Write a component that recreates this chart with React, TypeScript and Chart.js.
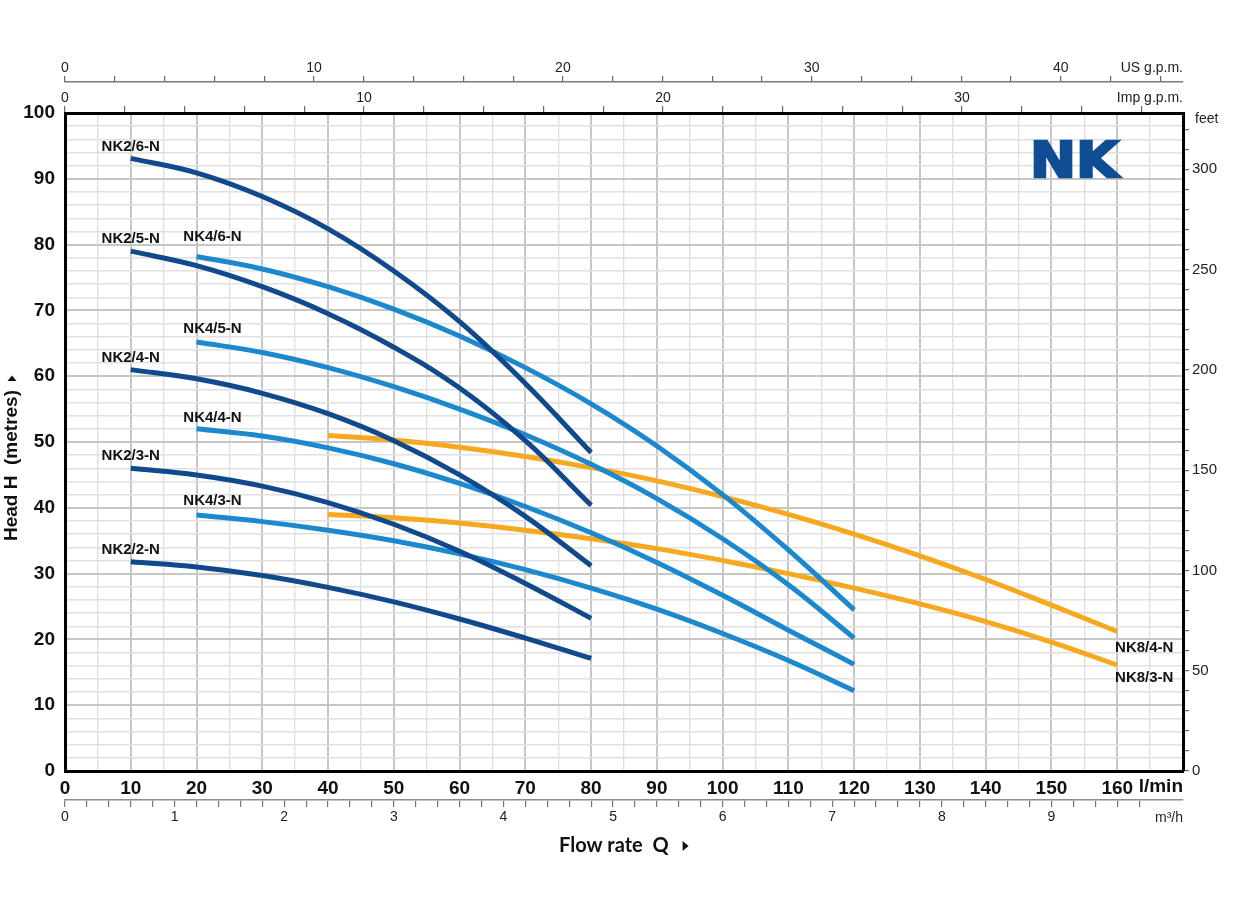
import React, { useEffect, useRef } from "react";
import { Chart, registerables } from "chart.js";

Chart.register(...registerables);

// ---------- data (flow in l/min, head in metres) ----------
const qNK2 = [10, 20, 30, 40, 50, 60, 70, 80];
const hNK2_6 = [93.1, 90.9, 87.3, 82.4, 76.0, 68.3, 58.9, 48.4];
const hNK2_5 = [79.0, 76.8, 73.6, 69.5, 64.4, 58.2, 50.2, 40.4];
const hNK2_4 = [61.0, 59.6, 57.4, 54.3, 50.2, 45.0, 38.7, 31.2];
const hNK2_3 = [46.0, 45.0, 43.3, 40.8, 37.5, 33.4, 28.5, 23.2];
const hNK2_2 = [31.8, 31.0, 29.7, 27.9, 25.7, 23.1, 20.2, 17.1];

const qNK4 = [20, 30, 40, 50, 60, 70, 80, 90, 100, 110, 120];
const hNK4_6 = [78.2, 76.3, 73.6, 70.2, 66.1, 61.3, 55.8, 49.4, 42.0, 33.6, 24.5];
const hNK4_5 = [65.2, 63.6, 61.3, 58.4, 55.0, 51.1, 46.6, 41.4, 35.3, 28.3, 20.2];
const hNK4_4 = [52.0, 50.9, 49.1, 46.7, 43.7, 40.2, 36.2, 31.7, 26.7, 21.4, 16.2];
const hNK4_3 = [38.9, 37.9, 36.6, 35.0, 33.0, 30.6, 27.8, 24.6, 20.9, 16.8, 12.2];

const qNK8 = [40, 50, 60, 70, 80, 90, 100, 110, 120, 130, 140, 150, 160];
const hNK8_4 = [51.0, 50.3, 49.2, 47.8, 46.1, 44.1, 41.7, 39.0, 36.0, 32.7, 29.1, 25.2, 21.2];
const hNK8_3 = [39.0, 38.5, 37.7, 36.6, 35.3, 33.8, 32.0, 30.0, 27.8, 25.4, 22.7, 19.6, 16.1];

// ---------- axis ranges / tick labels ----------
const FLOW_MAX = 170; // l/min
const HEAD_MAX = 100; // m
const lminLabels = [0, 10, 20, 30, 40, 50, 60, 70, 80, 90, 100, 110, 120, 130, 140, 150, 160];
const headLabels = [0, 10, 20, 30, 40, 50, 60, 70, 80, 90, 100];
const m3hLabels = [0, 1, 2, 3, 4, 5, 6, 7, 8, 9];
const usGpmLabels = [0, 10, 20, 30, 40];
const impGpmLabels = [0, 10, 20, 30];
const feetLabels = [0, 50, 100, 150, 200, 250, 300];

const L_PER_USGAL = 3.78541;
const L_PER_IMPGAL = 4.54609;
const M3H_PER_LMIN = 0.06;
const FT_PER_M = 3.28084;

// ---------- styles ----------
const DARK = "#11498d";
const LIGHT = "#1c89cf";
const ORANGE = "#f6a91e";
const NARROW = "'Liberation Sans Narrow', 'Liberation Sans', Arial, sans-serif";
const SANS = "'Liberation Sans', Arial, sans-serif";

const series = [
  { name: "NK2/6-N", q: qNK2, h: hNK2_6, color: DARK },
  { name: "NK2/5-N", q: qNK2, h: hNK2_5, color: DARK },
  { name: "NK2/4-N", q: qNK2, h: hNK2_4, color: DARK },
  { name: "NK2/3-N", q: qNK2, h: hNK2_3, color: DARK },
  { name: "NK2/2-N", q: qNK2, h: hNK2_2, color: DARK },
  { name: "NK4/6-N", q: qNK4, h: hNK4_6, color: LIGHT },
  { name: "NK4/5-N", q: qNK4, h: hNK4_5, color: LIGHT },
  { name: "NK4/4-N", q: qNK4, h: hNK4_4, color: LIGHT },
  { name: "NK4/3-N", q: qNK4, h: hNK4_3, color: LIGHT },
  { name: "NK8/4-N", q: qNK8, h: hNK8_4, color: ORANGE },
  { name: "NK8/3-N", q: qNK8, h: hNK8_3, color: ORANGE },
];

// label placement relative to first/last point (pixels)
const labelPlacement: Record<string, { end: boolean; dx: number; dy: number }> = {
  "NK2/6-N": { end: false, dx: 0, dy: -12 },
  "NK2/5-N": { end: false, dx: 0, dy: -12 },
  "NK2/4-N": { end: false, dx: 0, dy: -12 },
  "NK2/3-N": { end: false, dx: 0, dy: -12 },
  "NK2/2-N": { end: false, dx: 0, dy: -12 },
  "NK4/6-N": { end: false, dx: 16, dy: -20 },
  "NK4/5-N": { end: false, dx: 16, dy: -13 },
  "NK4/4-N": { end: false, dx: 16, dy: -11 },
  "NK4/3-N": { end: false, dx: 16, dy: -14 },
  "NK8/4-N": { end: true, dx: 27, dy: 16 },
  "NK8/3-N": { end: true, dx: 27, dy: 13 },
};

const isNear = (v: number, arr: number[]) => arr.some((a) => Math.abs(a - v) < 1e-6);

const MAJOR = "#c6c6c6";
const MINOR = "#e0e0e0";
const TRANSPARENT = "rgba(0,0,0,0)";

function triangle(ctx: CanvasRenderingContext2D, x: number, y: number, s: number) {
  ctx.beginPath();
  ctx.moveTo(x, y - s);
  ctx.lineTo(x + s * 1.2, y);
  ctx.lineTo(x, y + s);
  ctx.closePath();
  ctx.fill();
}

const textPlugin = {
  id: "nkTexts",
  afterDraw(chart: any) {
    const ctx: CanvasRenderingContext2D = chart.ctx;
    const ca = chart.chartArea;
    ctx.save();
    // curve labels
    ctx.fillStyle = "#111";
    ctx.font = `bold 15px ${SANS}`;
    ctx.textAlign = "center";
    ctx.textBaseline = "middle";
    series.forEach((s, i) => {
      const pl = labelPlacement[s.name];
      const pts = chart.getDatasetMeta(i).data;
      const p = pl.end ? pts[pts.length - 1] : pts[0];
      ctx.fillText(s.name, p.x + pl.dx, p.y + pl.dy);
    });

    // unit labels
    ctx.fillStyle = "#111";
    ctx.font = `bold 19px ${NARROW}`;
    ctx.textAlign = "right";
    ctx.fillText("l/min", ca.right, ca.bottom + 16);
    ctx.fillStyle = "#222";
    ctx.font = `14px ${NARROW}`;
    ctx.fillText("m³/h", ca.right, ca.bottom + 47);
    ctx.fillText("US g.p.m.", ca.right, chart.scales.us.bottom - 14);
    ctx.fillText("Imp g.p.m.", ca.right, ca.top - 15);
    ctx.textAlign = "left";
    ctx.fillText("feet", ca.right + 12, ca.top + 6);

    // x title
    ctx.fillStyle = "#111";
    ctx.font = `bold 20px Lato, ${SANS}`;
    ctx.textAlign = "left";
    const t1 = "Flow rate  Q";
    ctx.fillText(t1, 559, 846);
    const w1 = ctx.measureText(t1).width;
    triangle(ctx, 559 + w1 + 14, 846, 5);

    // y title
    ctx.save();
    ctx.translate(12, 541);
    ctx.rotate(-Math.PI / 2);
    ctx.font = `bold 19px ${SANS}`;
    ctx.textAlign = "left";
    const t2 = "Head H  (metres)";
    ctx.fillText(t2, 0, 0);
    const w2 = ctx.measureText(t2).width;
    triangle(ctx, w2 + 9, 0, 4.5);
    ctx.restore();

    // NK logo
    ctx.save();
    ctx.translate(1030, 177);
    ctx.scale(1.1, 1);
    ctx.fillStyle = "#0f4d94";
    ctx.strokeStyle = "#0f4d94";
    ctx.lineWidth = 2.5;
    ctx.lineJoin = "miter";
    ctx.font = `bold 50px 'DejaVu Sans', sans-serif`;
    ctx.textAlign = "left";
    ctx.textBaseline = "alphabetic";
    ctx.fillText("NK", 0, 0);
    ctx.strokeText("NK", 0, 0);
    ctx.restore();

    ctx.restore();
  },
};

function gridColor(v: number, major: number, lo: number, hi: number) {
  if (Math.abs(v - lo) < 1e-6 || Math.abs(v - hi) < 1e-6) return TRANSPARENT;
  return Math.abs(v / major - Math.round(v / major)) < 1e-6 ? MAJOR : MINOR;
}
function gridWidth(v: number, major: number) {
  return Math.abs(v / major - Math.round(v / major)) < 1e-6 ? 2 : 1.4;
}

export default function App() {
  const ref = useRef<HTMLCanvasElement>(null);

  useEffect(() => {
    const datasets = series.map((s) => ({
      label: s.name,
      data: s.q.map((q, i) => ({ x: q, y: s.h[i] })),
      borderColor: s.color,
      backgroundColor: s.color,
      borderWidth: 5,
      borderCapStyle: "butt" as const,
      pointRadius: 0,
      tension: 0.4,
      fill: false,
    }));

    const chart = new Chart(ref.current!, {
      type: "line",
      data: { datasets },
      plugins: [textPlugin],
      options: {
        animation: false,
        responsive: false,
        devicePixelRatio: 1,
        events: [],
        layout: { padding: { top: 52, bottom: 75, left: 0, right: 0 } },
        plugins: { legend: { display: false }, tooltip: { enabled: false } },
        scales: {
          x: {
            type: "linear",
            position: "bottom",
            weight: 0,
            min: 0,
            max: FLOW_MAX,
            afterFit: (s: any) => {
              s.height = 29;
            },
            border: { display: true, color: "#000", width: 3 },
            grid: {
              drawTicks: false,
              color: (c: any) => gridColor(c.tick.value, 10, 0, FLOW_MAX),
              lineWidth: (c: any) => gridWidth(c.tick.value, 10),
            },
            ticks: {
              stepSize: 5,
              autoSkip: false,
              maxTicksLimit: 1000,
              includeBounds: false,
              maxRotation: 0,
              padding: 6,
              color: "#111",
              font: { family: NARROW, size: 19, weight: "bold" },
              callback: (v: any) => (isNear(v, lminLabels) && v < 165 ? String(v) : ""),
            },
          },
          m3h: {
            type: "linear",
            position: "bottom",
            weight: 1,
            min: 0,
            max: FLOW_MAX * M3H_PER_LMIN,
            afterFit: (s: any) => {
              s.height = 25;
            },
            border: { display: true, color: "#8c8c8c", width: 1.5 },
            grid: {
              drawOnChartArea: false,
              drawTicks: true,
              tickLength: 7,
              tickColor: (c: any) => (c.tick.value > 9.9 ? TRANSPARENT : "#777"),
              lineWidth: 1.2,
            },
            ticks: {
              stepSize: 0.2,
              autoSkip: false,
              maxTicksLimit: 1000,
              includeBounds: false,
              maxRotation: 0,
              padding: 2,
              color: "#222",
              font: { family: NARROW, size: 14 },
              callback: (v: any) => (isNear(v, m3hLabels) ? String(Math.round(v)) : ""),
            },
          },
          y: {
            type: "linear",
            position: "left",
            min: 0,
            max: HEAD_MAX,
            afterFit: (s: any) => {
              s.width = 65;
            },
            border: { display: true, color: "#000", width: 3 },
            grid: {
              drawTicks: false,
              color: (c: any) => gridColor(c.tick.value, 10, 0, HEAD_MAX),
              lineWidth: (c: any) => gridWidth(c.tick.value, 10),
            },
            ticks: {
              stepSize: 2,
              autoSkip: false,
              maxTicksLimit: 1000,
              includeBounds: false,
              padding: 10,
              color: "#111",
              font: { family: NARROW, size: 19, weight: "bold" },
              callback: (v: any) => (isNear(v, headLabels) ? String(v) : ""),
            },
          },
          ft: {
            type: "linear",
            position: "right",
            min: 0,
            max: HEAD_MAX * FT_PER_M,
            afterFit: (s: any) => {
              s.width = 51;
            },
            border: { display: true, color: "#000", width: 3 },
            grid: {
              drawOnChartArea: false,
              drawTicks: true,
              tickLength: 6,
              tickColor: "#666",
              lineWidth: 1.2,
            },
            ticks: {
              stepSize: 10,
              autoSkip: false,
              maxTicksLimit: 1000,
              includeBounds: false,
              padding: 3,
              color: "#222",
              font: { family: NARROW, size: 15 },
              callback: (v: any) => (isNear(v, feetLabels) ? String(v) : ""),
            },
          },
          imp: {
            type: "linear",
            position: "top",
            weight: 0,
            min: 0,
            max: FLOW_MAX / L_PER_IMPGAL,
            afterFit: (s: any) => {
              s.height = 31;
            },
            border: { display: true, color: "#000", width: 3 },
            grid: {
              drawOnChartArea: false,
              drawTicks: true,
              tickLength: 7,
              tickColor: "#666",
              lineWidth: 1.2,
            },
            ticks: {
              stepSize: 2,
              autoSkip: false,
              maxTicksLimit: 1000,
              includeBounds: false,
              maxRotation: 0,
              padding: -1,
              color: "#222",
              font: { family: NARROW, size: 14 },
              callback: (v: any) => (isNear(v, impGpmLabels) ? String(v) : ""),
            },
          },
          us: {
            type: "linear",
            position: "top",
            weight: 1,
            min: 0,
            max: FLOW_MAX / L_PER_USGAL,
            afterFit: (s: any) => {
              s.height = 30;
            },
            border: { display: true, color: "#7a7a7a", width: 1.5 },
            grid: {
              drawOnChartArea: false,
              drawTicks: true,
              tickLength: 6,
              tickColor: "#666",
              lineWidth: 1.2,
            },
            ticks: {
              stepSize: 2,
              autoSkip: false,
              maxTicksLimit: 1000,
              includeBounds: false,
              maxRotation: 0,
              padding: -1,
              color: "#222",
              font: { family: NARROW, size: 14 },
              callback: (v: any) => (isNear(v, usGpmLabels) ? String(v) : ""),
            },
          },
        },
      } as any,
    });
    return () => chart.destroy();
  }, []);

  return (
    <div
      style={{
        position: "absolute",
        left: 0,
        top: 0,
        width: 1234,
        height: 900,
        background: "#fff",
      }}
    >
      <canvas ref={ref} width={1234} height={900} style={{ display: "block", width: 1234, height: 900 }} />
    </div>
  );
}
